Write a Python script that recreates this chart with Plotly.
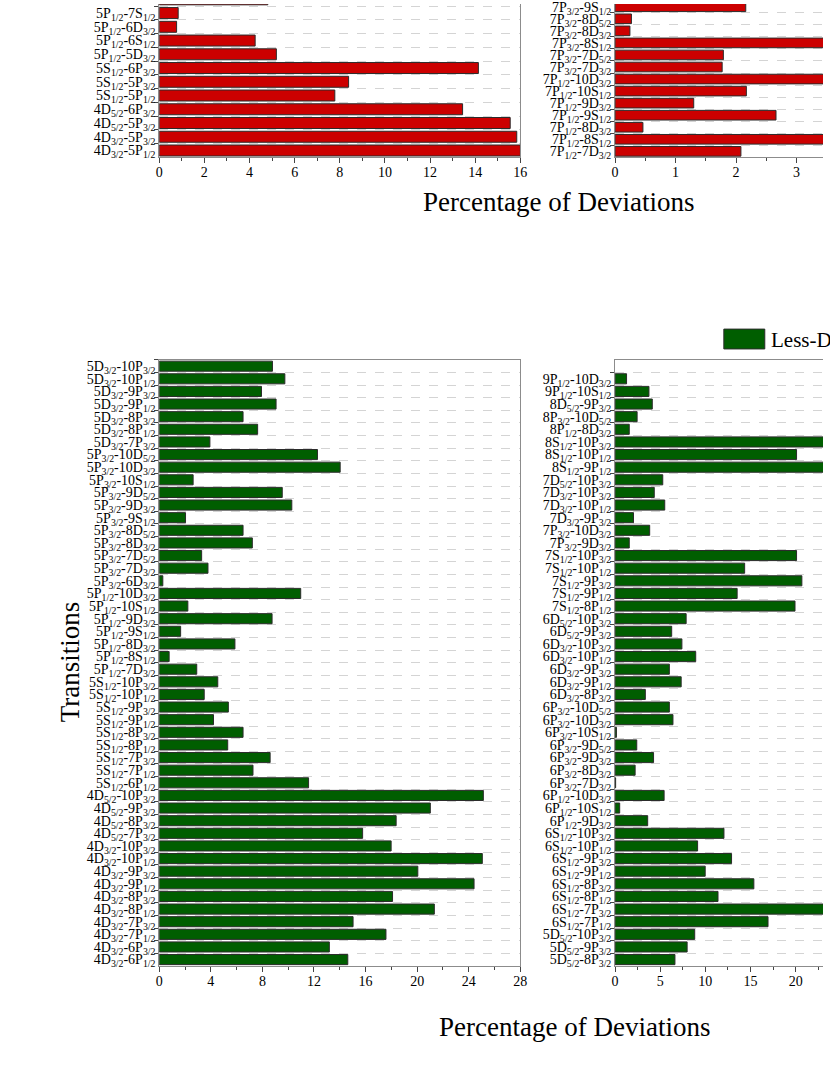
import re
import plotly.graph_objects as go

# ---------------------------------------------------------------- data ---#
# every list runs from the bottom bar of a panel up to the top one

# upper panels (more deviated, red) - only the lower part is in view
top_left_labels = ['4D3/2-5P1/2', '4D3/2-5P3/2', '4D5/2-5P3/2', '4D5/2-6P3/2',
                   '5S1/2-5P1/2', '5S1/2-5P3/2', '5S1/2-6P3/2', '5P1/2-5D3/2',
                   '5P1/2-6S1/2', '5P1/2-6D3/2', '5P1/2-7S1/2', '5P3/2-5D3/2']
top_left_vals = [16.0, 15.84, 15.55, 13.44, 7.78, 8.39, 14.14, 5.19,
                 4.25, 0.77, 0.84, 4.81]

top_right_labels = ['7P1/2-7D3/2', '7P1/2-8S1/2', '7P1/2-8D3/2', '7P1/2-9S1/2',
                    '7P1/2-9D3/2', '7P1/2-10S1/2', '7P1/2-10D3/2', '7P3/2-7D3/2',
                    '7P3/2-7D5/2', '7P3/2-8S1/2', '7P3/2-8D3/2', '7P3/2-8D5/2',
                    '7P3/2-9S1/2']
top_right_vals = [2.08, 4.1, 0.46, 2.66, 1.30, 2.17, 3.8, 1.77,
                  1.79, 4.4, 0.245, 0.27, 2.16]

# lower panels (less deviated, green)
bot_left_labels = ['4D3/2-6P1/2', '4D3/2-6P3/2', '4D3/2-7P1/2', '4D3/2-7P3/2',
                   '4D3/2-8P1/2', '4D3/2-8P3/2', '4D3/2-9P1/2', '4D3/2-9P3/2',
                   '4D3/2-10P1/2', '4D3/2-10P3/2', '4D5/2-7P3/2', '4D5/2-8P3/2',
                   '4D5/2-9P3/2', '4D5/2-10P3/2', '5S1/2-6P1/2', '5S1/2-7P1/2',
                   '5S1/2-7P3/2', '5S1/2-8P1/2', '5S1/2-8P3/2', '5S1/2-9P1/2',
                   '5S1/2-9P3/2', '5S1/2-10P1/2', '5S1/2-10P3/2', '5P1/2-7D3/2',
                   '5P1/2-8S1/2', '5P1/2-8D3/2', '5P1/2-9S1/2', '5P1/2-9D3/2',
                   '5P1/2-10S1/2', '5P1/2-10D3/2', '5P3/2-6D3/2', '5P3/2-7D3/2',
                   '5P3/2-7D5/2', '5P3/2-8D3/2', '5P3/2-8D5/2', '5P3/2-9S1/2',
                   '5P3/2-9D3/2', '5P3/2-9D5/2', '5P3/2-10S1/2', '5P3/2-10D3/2',
                   '5P3/2-10D5/2', '5D3/2-7P3/2', '5D3/2-8P1/2', '5D3/2-8P3/2',
                   '5D3/2-9P1/2', '5D3/2-9P3/2', '5D3/2-10P1/2', '5D3/2-10P3/2']
bot_left_vals = [14.62, 13.19, 17.58, 15.03, 21.33, 18.09, 24.41, 20.05,
                 25.05, 17.98, 15.77, 18.37, 21.02, 25.13, 11.58, 7.27,
                 8.6, 5.31, 6.5, 4.21, 5.36, 3.49, 4.54, 2.91,
                 0.77, 5.87, 1.66, 8.75, 2.22, 10.97, 0.28, 3.78,
                 3.29, 7.22, 6.5, 2.04, 10.28, 9.54, 2.63, 14.03,
                 12.27, 3.93, 7.63, 6.5, 9.06, 7.93, 9.74, 8.78]

bot_right_labels = ['5D5/2-8P3/2', '5D5/2-9P3/2', '5D5/2-10P3/2', '6S1/2-7P1/2',
                    '6S1/2-7P3/2', '6S1/2-8P1/2', '6S1/2-8P3/2', '6S1/2-9P1/2',
                    '6S1/2-9P3/2', '6S1/2-10P1/2', '6S1/2-10P3/2', '6P1/2-9D3/2',
                    '6P1/2-10S1/2', '6P1/2-10D3/2', '6P3/2-7D3/2', '6P3/2-8D3/2',
                    '6P3/2-9D3/2', '6P3/2-9D5/2', '6P3/2-10S1/2', '6P3/2-10D3/2',
                    '6P3/2-10D5/2', '6D3/2-8P3/2', '6D3/2-9P1/2', '6D3/2-9P3/2',
                    '6D3/2-10P1/2', '6D3/2-10P3/2', '6D5/2-9P3/2', '6D5/2-10P3/2',
                    '7S1/2-8P1/2', '7S1/2-9P1/2', '7S1/2-9P3/2', '7S1/2-10P1/2',
                    '7S1/2-10P3/2', '7P3/2-9D3/2', '7P3/2-10D3/2', '7D3/2-9P3/2',
                    '7D3/2-10P1/2', '7D3/2-10P3/2', '7D5/2-10P3/2', '8S1/2-9P1/2',
                    '8S1/2-10P1/2', '8S1/2-10P3/2', '8P1/2-8D3/2', '8P3/2-10D5/2',
                    '8D5/2-9P3/2', '9P1/2-10S1/2', '9P1/2-10D3/2']
bot_right_vals = [6.63, 7.98, 8.82, 16.94, 24.3, 11.4, 15.37, 9.98,
                  12.9, 9.14, 12.06, 3.61, 0.51, 5.43, 0.06, 2.22,
                  4.26, 2.4, 0.15, 6.41, 6.01, 3.35, 7.32, 6.01,
                  8.93, 7.4, 6.27, 7.87, 19.93, 13.52, 20.69, 14.35,
                  20.1, 1.57, 3.83, 2.04, 5.5, 4.34, 5.28, 26.2,
                  20.1, 25.5, 1.57, 2.44, 4.12, 3.75, 1.27]

RED = '#CC0000'
GREEN = '#005E00'
FONT = 'Liberation Serif'
W, H = 830, 1090


def fmt(s):
    # 5D3/2-10P1/2 -> 5D<sub>3/2</sub>-10P<sub>1/2</sub>
    return re.sub(r'([SPD])(\d/2)', r'\1<sub>\2</sub>', s)


def px(x):
    return x / W


def py(y):
    return 1 - y / H


fig = go.Figure()
panels = [
    (top_left_labels, top_left_vals, RED, 'x', 'y'),
    (top_right_labels, top_right_vals, RED, 'x2', 'y2'),
    (bot_left_labels, bot_left_vals, GREEN, 'x3', 'y3'),
    (bot_right_labels, bot_right_vals, GREEN, 'x4', 'y4'),
]
for labels, vals, col, xa, ya in panels:
    fig.add_trace(go.Bar(
        x=vals, y=[fmt(s) for s in labels], orientation='h',
        xaxis=xa, yaxis=ya, showlegend=False,
        marker=dict(color=col, line=dict(color='#2b2b2b', width=1)),
    ))

tickfont = dict(family=FONT, size=14, color='black')


def xax(dom, anchor, rng, dtick, mirror):
    return dict(domain=dom, anchor=anchor, range=rng, dtick=dtick,
                ticks='outside', ticklen=5, tickcolor='#444', ticklabelstandoff=-3,
                minor=dict(dtick=dtick / 2, ticks='outside', ticklen=3, tickcolor='#444'),
                showline=True, linecolor='#8c8c8c', linewidth=1, mirror=mirror,
                showgrid=False, zeroline=False, tickfont=tickfont, fixedrange=True)


def yax(dom, anchor, rng, labels, mirror):
    cats = [fmt(s) for s in labels]
    return dict(domain=dom, anchor=anchor, range=rng, type='category',
                tickmode='array', tickvals=cats, ticktext=cats,
                tickson='boundaries', ticks='outside', ticklen=4, tickcolor='#444',
                showline=True, linecolor='#8c8c8c', linewidth=1, mirror=mirror,
                showgrid=True, gridcolor='#d4d4d4', griddash='dash', gridwidth=1,
                tickfont=tickfont, fixedrange=True)


left_dom = [px(157.3), px(523.3)]
right_dom = [px(619.3), 1.0]
top_dom = [py(154.5), 1.0]
bot_dom = [py(969), py(358.5)]

fig.update_layout(
    width=W, height=H,
    margin=dict(l=0, r=0, t=0, b=0),
    paper_bgcolor='white', plot_bgcolor='white',
    bargap=0.2,
    font=dict(family=FONT, color='black'),
    xaxis=xax(left_dom, 'y', [0, 16], 2, False),
    yaxis=yax(top_dom, 'x', [-0.5, 10.66], top_left_labels, True),
    xaxis2=xax(right_dom, 'y2', [0, 3.437], 1, False),
    yaxis2=yax(top_dom, 'x2', [-0.5, 12.23], top_right_labels, False),
    xaxis3=xax(left_dom, 'y3', [0, 28], 4, True),
    yaxis3=yax(bot_dom, 'x3', [-0.5, 47.5], bot_left_labels, True),
    xaxis4=xax(right_dom, 'y4', [0, 23.03], 5, True),
    yaxis4=yax(bot_dom, 'x4', [-0.5, 47.5], bot_right_labels, False),
)

big = dict(family=FONT, size=27, color='black')
annotations = [
    dict(text='Percentage of Deviations', x=px(562), y=py(199), font=big),
    dict(text='Percentage of Deviations', x=px(578), y=py(1031), font=big),
    dict(text='Transitions', x=px(67), y=py(663), textangle=-90, font=big),
    # legend of the lower panels
    dict(text='Less-Deviated', x=px(775), y=py(338), xanchor='left',
         font=dict(family=FONT, size=21, color='black')),
]
for a in annotations:
    a.setdefault('xanchor', 'center')
    a.update(xref='paper', yref='paper', yanchor='middle', showarrow=False)

# label of the bar cut off at the top edge of the upper left panel
annotations.append(dict(text=fmt(top_left_labels[-1]), x=px(151), y=len(top_left_labels) - 1,
                        xref='paper', yref='y', xanchor='right', yanchor='middle',
                        showarrow=False, font=tickfont))

fig.update_layout(
    annotations=annotations,
    shapes=[dict(type='rect', xref='paper', yref='paper',
                 x0=px(729.5), x1=px(771), y0=py(347.5), y1=py(327.5),
                 fillcolor=GREEN, line=dict(color='#2b2b2b', width=1))],
)

# the page's default body margin would shift the whole figure by 8px
fig.write_html("out.html", config={'displayModeBar': False},
               post_script="document.body.style.margin='0';")
